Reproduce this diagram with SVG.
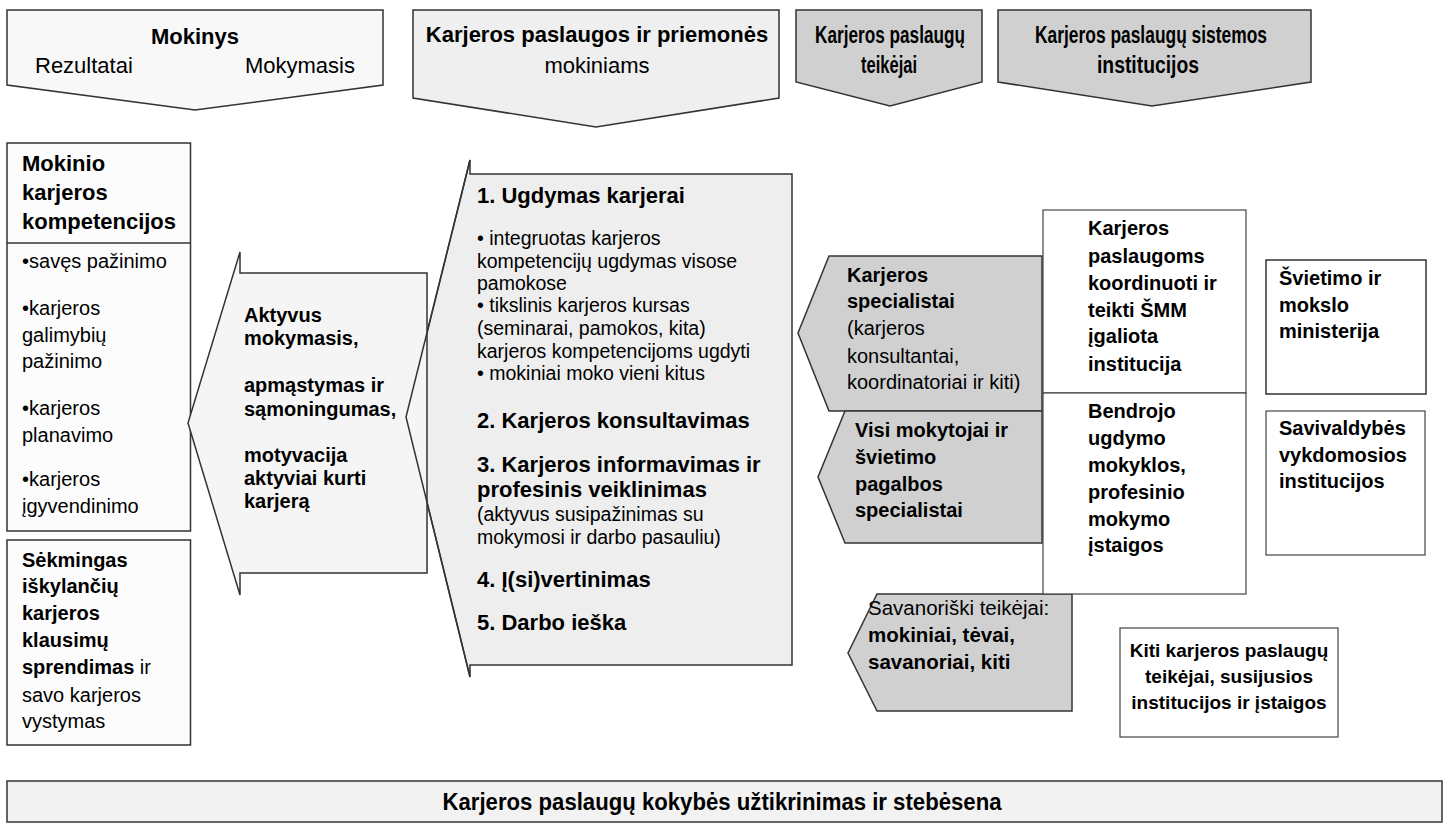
<svg xmlns="http://www.w3.org/2000/svg" width="1451" height="826" viewBox="0 0 1451 826">
<style>
text{font-family:"Liberation Sans",Arial,sans-serif;fill:#000}
.b{font-weight:bold}
.h{font-size:22px}
.t20{font-size:20px}
.t19{font-size:19.5px}
.bb{font-size:22px;font-weight:bold}
.c{text-anchor:middle}
.sh{stroke:#333;stroke-width:1.5}
.thin{stroke:#444;stroke-width:1.2}
</style>
<rect width="1451" height="826" fill="#fff"/>
<g id="head-mokinys">
<polygon class="sh" fill="#f8f8f8" points="7,10 383,10 383,85 195,110 7,85"/>
<text class="b h c" x="195" y="44">Mokinys</text>
<text class="h" x="35" y="73">Rezultatai</text>
<text class="h" x="355" y="73" text-anchor="end">Mokymasis</text>
</g>
<g id="head-paslaugos">
<polygon class="sh" fill="#efefef" points="413,10 779,10 779,98 596,127 413,98"/>
<text class="b h c" x="597" y="42">Karjeros paslaugos ir priemonės</text>
<text class="h c" x="597" y="73">mokiniams</text>
</g>
<g id="head-teikejai">
<polygon class="sh" fill="#d0d0d0" points="796,10 982,10 982,82 890,106 796,82"/>
<text class="b c" font-size="23" x="890" y="43" textLength="150" lengthAdjust="spacingAndGlyphs">Karjeros paslaugų</text>
<text class="b c" font-size="23" x="889" y="73" textLength="56" lengthAdjust="spacingAndGlyphs">teikėjai</text>
</g>
<g id="head-institucijos">
<polygon class="sh" fill="#d0d0d0" points="998,10 1311,10 1311,82 1152,106 998,82"/>
<text class="b c" font-size="23" x="1151" y="43" textLength="232" lengthAdjust="spacingAndGlyphs">Karjeros paslaugų sistemos</text>
<text class="b c" font-size="23" x="1148" y="73" textLength="102" lengthAdjust="spacingAndGlyphs">institucijos</text>
</g>
<g id="kompetencijos">
<rect class="sh" fill="#fcfcfc" x="7" y="143" width="183.5" height="388"/>
<line class="sh" x1="7" y1="243" x2="190.5" y2="243"/>
<text class="b h" x="22" y="171">Mokinio</text>
<text class="b h" x="22" y="200">karjeros</text>
<text class="b h" x="22" y="229">kompetencijos</text>
<text class="t20" x="22" y="268">•savęs pažinimo</text>
<text class="t20" x="22" y="315">•karjeros</text>
<text class="t20" x="22" y="342">galimybių</text>
<text class="t20" x="22" y="368">pažinimo</text>
<text class="t20" x="22" y="415">•karjeros</text>
<text class="t20" x="22" y="442">planavimo</text>
<text class="t20" x="22" y="486">•karjeros</text>
<text class="t20" x="22" y="513">įgyvendinimo</text>
</g>
<g id="sprendimas">
<rect class="sh" fill="#fcfcfc" x="7" y="540" width="183.5" height="205"/>
<text class="t20 b" x="22" y="567">Sėkmingas</text>
<text class="t20 b" x="22" y="593">iškylančių</text>
<text class="t20 b" x="22" y="620">karjeros</text>
<text class="t20 b" x="22" y="647">klausimų</text>
<text class="t20" x="22" y="674"><tspan class="b">sprendimas</tspan> ir</text>
<text class="t20" x="22" y="702">savo karjeros</text>
<text class="t20" x="22" y="728">vystymas</text>
</g>
<g id="paslaugos">
<polygon class="sh" fill="#eeeeee" points="470,160 470,174 792,174 792,665 470,665 470,677 406,417"/>
</g>
<g id="aktyvus">
<polygon class="sh" fill="#f5f5f5" points="240,252 240,273 427,273 427,573 240,573 240,595 188,423"/>
<text class="t20 b" x="244" y="322">Aktyvus</text>
<text class="t20 b" x="244" y="345">mokymasis,</text>
<text class="t20 b" x="244" y="392">apmąstymas ir</text>
<text class="t20 b" x="244" y="416">sąmoningumas,</text>
<text class="t20 b" x="244" y="462">motyvacija</text>
<text class="t20 b" x="244" y="485">aktyviai kurti</text>
<text class="t20 b" x="244" y="508">karjerą</text>
</g>
<g id="paslaugos-text">
<polyline class="sh" fill="none" points="470,160 406,417 470,677"/>
<text class="bb" x="477" y="203">1. Ugdymas karjerai</text>
<text class="t19" x="477" y="245">• integruotas karjeros</text>
<text class="t19" x="477" y="268">kompetencijų ugdymas visose</text>
<text class="t19" x="477" y="290">pamokose</text>
<text class="t19" x="477" y="312">• tikslinis karjeros kursas</text>
<text class="t19" x="477" y="335">(seminarai, pamokos, kita)</text>
<text class="t19" x="477" y="358">karjeros kompetencijoms ugdyti</text>
<text class="t19" x="477" y="380">• mokiniai moko vieni kitus</text>
<text class="bb" x="477" y="428">2. Karjeros konsultavimas</text>
<text class="bb" x="477" y="472">3. Karjeros informavimas ir</text>
<text class="bb" x="477" y="497">profesinis veiklinimas</text>
<text class="t19" x="477" y="521">(aktyvus susipažinimas su</text>
<text class="t19" x="477" y="544">mokymosi ir darbo pasauliu)</text>
<text class="bb" x="477" y="587">4. Į(si)vertinimas</text>
<text class="bb" x="477" y="630">5. Darbo ieška</text>
</g>
<g id="specialistai">
<polygon class="sh" fill="#d0d0d0" points="829,256 1042,256 1042,411 829,411 798,333"/>
<text class="t20 b" x="847" y="282">Karjeros</text>
<text class="t20 b" x="847" y="308">specialistai</text>
<text class="t20" x="847" y="335">(karjeros</text>
<text class="t20" x="847" y="363">konsultantai,</text>
<text class="t20" x="847" y="389">koordinatoriai ir kiti)</text>
</g>
<g id="mokytojai">
<polygon class="sh" fill="#d0d0d0" points="845,411 1042,411 1042,543 845,543 818,477"/>
<text class="t20 b" x="855" y="437">Visi mokytojai ir</text>
<text class="t20 b" x="855" y="464">švietimo</text>
<text class="t20 b" x="855" y="491">pagalbos</text>
<text class="t20 b" x="855" y="517">specialistai</text>
</g>
<g id="savanoriski">
<polygon class="sh" fill="#d0d0d0" points="877,594 1072,594 1072,711 877,711 848,653"/>
<text font-size="20.5" x="868" y="615">Savanoriški teikėjai:</text>
<text class="b" font-size="20.5" x="868" y="642">mokiniai, tėvai,</text>
<text class="b" font-size="20.5" x="868" y="669">savanoriai, kiti</text>
</g>
<g id="igaliota">
<rect class="thin" fill="#fff" x="1043" y="210" width="203" height="183"/>
<text class="t20 b" x="1088" y="235">Karjeros</text>
<text class="t20 b" x="1088" y="263">paslaugoms</text>
<text class="t20 b" x="1088" y="290">koordinuoti ir</text>
<text class="t20 b" x="1088" y="317">teikti ŠMM</text>
<text class="t20 b" x="1088" y="343">įgaliota</text>
<text class="t20 b" x="1088" y="371">institucija</text>
</g>
<g id="mokyklos">
<rect class="thin" fill="#fff" x="1043" y="393" width="203" height="201"/>
<text class="t20 b" x="1088" y="418">Bendrojo</text>
<text class="t20 b" x="1088" y="445">ugdymo</text>
<text class="t20 b" x="1088" y="472">mokyklos,</text>
<text class="t20 b" x="1088" y="499">profesinio</text>
<text class="t20 b" x="1088" y="526">mokymo</text>
<text class="t20 b" x="1088" y="552">įstaigos</text>
</g>
<g id="ministerija">
<rect class="sh" fill="#fff" x="1266" y="260" width="160" height="134"/>
<text class="t20 b" x="1279" y="285">Švietimo ir</text>
<text class="t20 b" x="1279" y="312">mokslo</text>
<text class="t20 b" x="1279" y="338">ministerija</text>
</g>
<g id="savivaldybes">
<rect class="thin" fill="#fff" x="1266" y="411" width="159" height="144"/>
<text class="t20 b" x="1279" y="435">Savivaldybės</text>
<text class="t20 b" x="1279" y="462">vykdomosios</text>
<text class="t20 b" x="1279" y="488">institucijos</text>
</g>
<g id="kiti">
<rect class="thin" fill="#fff" x="1120" y="628" width="218" height="109"/>
<text class="b c" font-size="19" x="1229" y="657">Kiti karjeros paslaugų</text>
<text class="b c" font-size="19" x="1229" y="683">teikėjai, susijusios</text>
<text class="b c" font-size="19" x="1229" y="709">institucijos ir įstaigos</text>
</g>
<g id="kokybe">
<rect class="sh" fill="#f2f2f2" x="7" y="781" width="1435" height="41"/>
<text class="b c" font-size="23" x="722" y="810" textLength="559" lengthAdjust="spacingAndGlyphs">Karjeros paslaugų kokybės užtikrinimas ir stebėsena</text>
</g>
<g id="connectors"></g>
</svg>
